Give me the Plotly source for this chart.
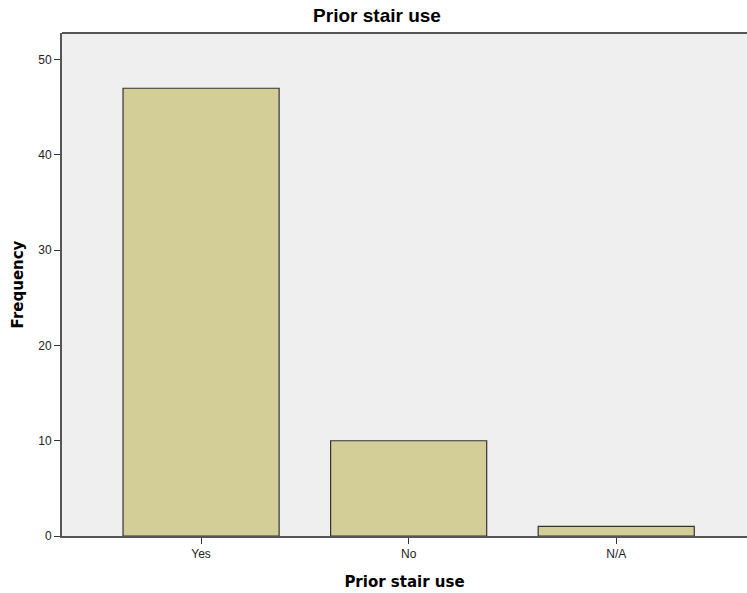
import plotly.graph_objects as go

categories = ["Yes", "No", "N/A"]
frequency = [47, 10, 1]
y_ticks = [0, 10, 20, 30, 40, 50]

fig = go.Figure()
fig.add_trace(go.Bar(
    x=categories, y=frequency, width=0.752,
    marker=dict(color="#d3ce97", line=dict(color="#333333", width=1.2)),
))

fig.update_layout(
    width=747, height=593,
    margin=dict(l=62, r=0, t=33, b=57),
    paper_bgcolor="white", plot_bgcolor="#efefef",
    showlegend=False,
    title=dict(text="<b>Prior stair use</b>", x=377 / 747, xanchor="center",
               y=1 - 15 / 593, yanchor="middle",
               font=dict(family="Liberation Sans", size=19, color="#000000")),
    xaxis=dict(
        range=[-0.67, 2.63], showgrid=False, zeroline=False,
        showline=True, linecolor="#555555", linewidth=1.5,
        ticks="outside", ticklen=6, tickcolor="#333333", tickwidth=1,
        tickfont=dict(family="Liberation Sans", size=12, color="#222222"),
        title=dict(text="<b>Prior stair use</b>", standoff=16,
                   font=dict(family="DejaVu Sans", size=15, color="#000000")),
    ),
    yaxis=dict(
        range=[0, 52.8], tickvals=y_ticks, showgrid=False, zeroline=False,
        showline=True, linecolor="#555555", linewidth=2,
        ticks="outside", ticklen=6, tickcolor="#333333", tickwidth=1.2,
        tickfont=dict(family="Liberation Sans", size=12, color="#222222"),
        title=dict(text="<b>Frequency</b>", standoff=11,
                   font=dict(family="DejaVu Sans", size=15, color="#000000")),
    ),
    shapes=[dict(type="line", xref="paper", yref="paper", x0=0, x1=1, y0=1, y1=1,
                 line=dict(color="#555555", width=2))],
)

fig.write_html("out.html", config={"displayModeBar": False},
               post_script="document.body.style.margin='0';document.body.style.overflow='hidden';")
